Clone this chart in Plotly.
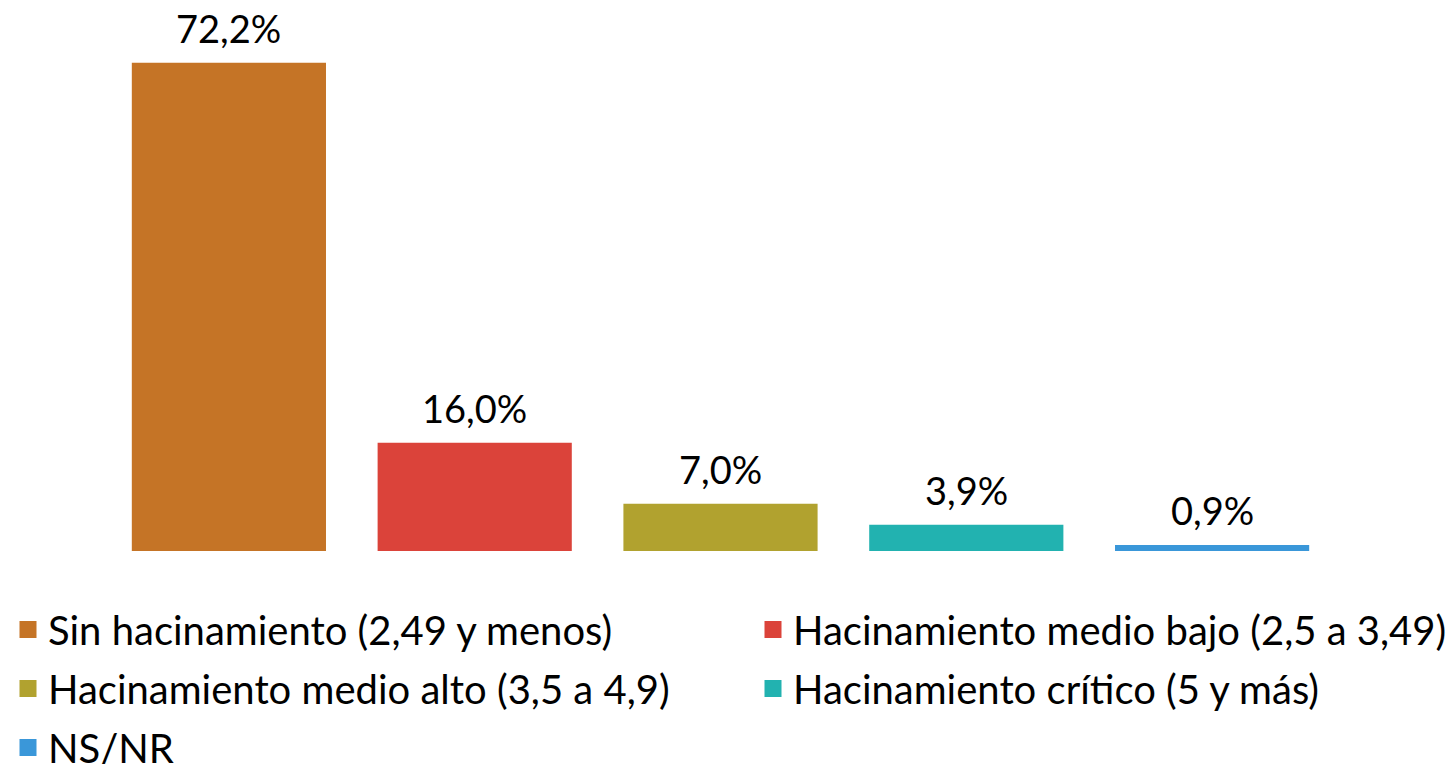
import plotly.graph_objects as go

categories = [
    "Sin hacinamiento (2,49 y menos)",
    "Hacinamiento medio bajo (2,5 a 3,49)",
    "Hacinamiento medio alto (3,5 a 4,9)",
    "Hacinamiento crítico (5 y más)",
    "NS/NR",
]
values = [72.2, 16.0, 7.0, 3.9, 0.9]
labels = ["72,2%", "16,0%", "7,0%", "3,9%", "0,9%"]
colors = ["#C57426", "#DB433A", "#B1A22F", "#22B2B0", "#3A97D9"]
legend_column = ["legend", "legend2", "legend", "legend2", "legend"]

FONT = "Lato"
ML, MR = 106, 115
PLOT_W = 1450 - ML - MR

fig = go.Figure()
for c, v, col in zip(categories, values, colors):
    fig.add_trace(go.Bar(x=[c], y=[v], name=c, marker_color=col, marker_line_width=0,
                         showlegend=False, legendgroup=c))
# legend entries (larger swatches), laid out in two columns
for c, col, lg in zip(categories, colors, legend_column):
    fig.add_trace(go.Bar(x=[c], y=[None], name=c, marker_color=col,
                         marker_line=dict(width=5, color=col), legendgroup=c,
                         showlegend=True, legend=lg))

for c, v, t in zip(categories, values, labels):
    fig.add_annotation(x=c, y=v, text=t, showarrow=False, yanchor="bottom", yshift=10,
                       font=dict(family=FONT, size=38, color="#000000"))

legend_style = dict(orientation="v", xref="paper", yref="container",
                    xanchor="left", yanchor="top", tracegroupgap=4,
                    bgcolor="rgba(0,0,0,0)",
                    font=dict(family=FONT, size=40, color="#000000"))

fig.update_layout(
    width=1450, height=764,
    paper_bgcolor="white", plot_bgcolor="white",
    margin=dict(l=ML, r=MR, t=10, b=213, autoexpand=False),
    barmode="relative", bargap=0.21,
    xaxis=dict(visible=False, type="category", categoryorder="array",
               categoryarray=categories, range=[-0.5, len(categories) - 0.5]),
    yaxis=dict(visible=False, range=[0, 80]),
    showlegend=True,
    legend=dict(x=(8 - ML) / PLOT_W, y=1 - 597 / 764, **legend_style),
    legend2=dict(x=(753 - ML) / PLOT_W, y=1 - 597 / 764, **legend_style),
    font=dict(family=FONT),
)

fig.write_html("out.html", post_script="document.body.style.margin='0';",
               config={"displayModeBar": False})
